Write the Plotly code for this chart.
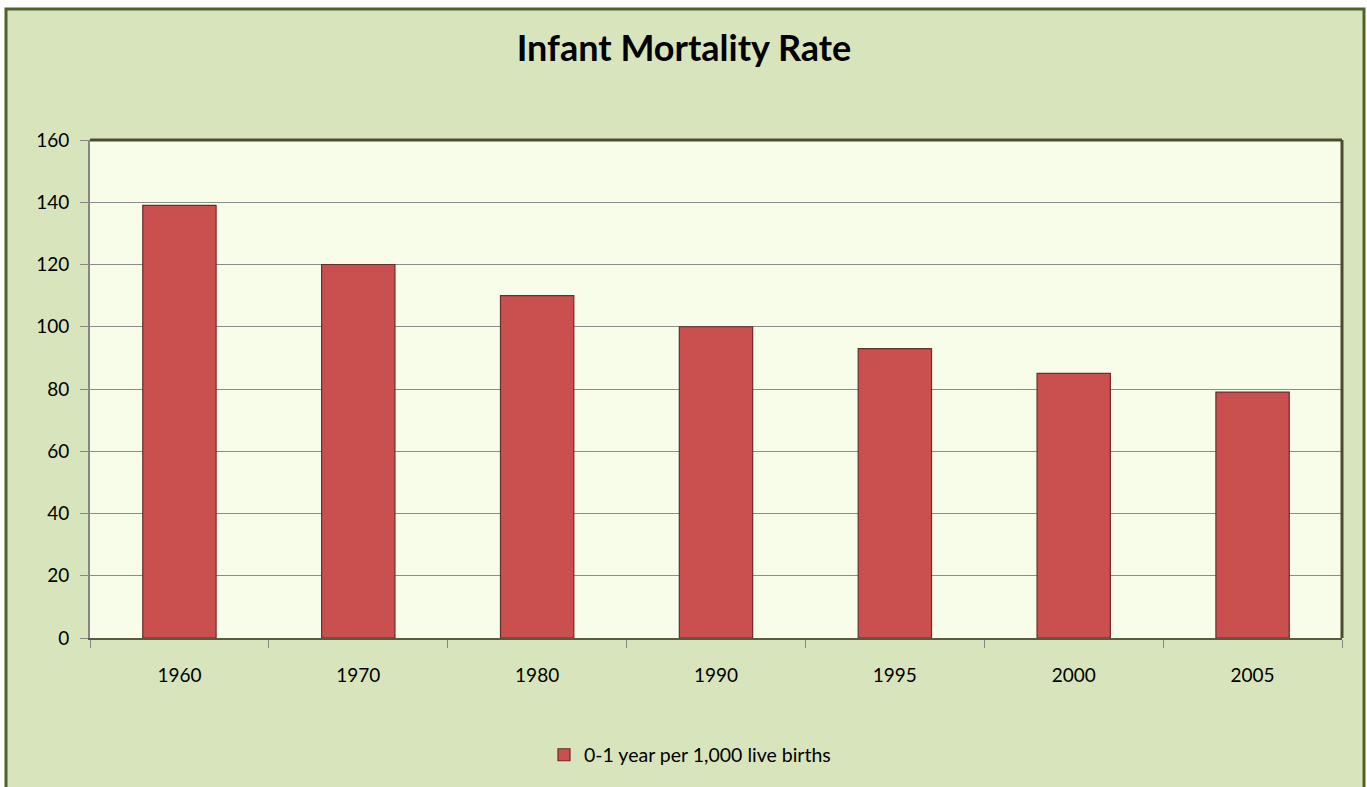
import plotly.graph_objects as go

years = ["1960", "1970", "1980", "1990", "1995", "2000", "2005"]
rates = [139, 120, 110, 100, 93, 85, 79]
series_name = "0-1 year per 1,000 live births"
title_text = "Infant Mortality Rate"
y_ticks = [0, 20, 40, 60, 80, 100, 120, 140, 160]

W, H = 1367, 787
L, R, T, B = 90, 1342, 140, 642
pw, ph = R - L, B - T

def px_x(x):
    return (x - L) / pw

def px_y(y):
    return (B - y) / ph

fig = go.Figure()
fig.add_trace(go.Bar(
    x=years, y=rates, name=series_name,
    marker=dict(color="#c9504e", line=dict(color="#6e2b29", width=1.2)),
    width=0.41, showlegend=True,
))

font_family = "Lato, 'Open Sans', sans-serif"

shapes = [
    dict(type="rect", xref="paper", yref="paper", layer="below",
         x0=px_x(6), x1=px_x(1364), y0=px_y(8), y1=px_y(800),
         fillcolor="#d8e4bc", line=dict(color="#4f6228", width=3)),
    dict(type="rect", xref="paper", yref="paper", layer="below",
         x0=0, x1=1, y0=0, y1=1, fillcolor="#f8fdea", line=dict(width=0)),
    dict(type="line", xref="paper", yref="paper", x0=0, x1=1, y0=1, y1=1,
         line=dict(color="#4d4b2e", width=3)),
    dict(type="line", xref="paper", yref="paper", x0=1, x1=1, y0=0, y1=1,
         line=dict(color="#4d4b2e", width=3)),
]

fig.update_layout(
    width=W, height=H,
    margin=dict(l=L, r=W - R, t=T, b=H - B, pad=0),
    paper_bgcolor="white",
    plot_bgcolor="rgba(0,0,0,0)",
    title=dict(text="<b>" + title_text + "</b>", xref="container", x=684 / W,
               xanchor="center", yref="container", y=1 - 48 / H, yanchor="middle",
               font=dict(family=font_family, size=36, color="black")),
    font=dict(family=font_family, size=19, color="black"),
    shapes=shapes,
    showlegend=True,
    legend=dict(orientation="h", x=px_x(690), xanchor="center", y=px_y(760), yanchor="middle",
                bgcolor="rgba(0,0,0,0)", font=dict(size=19.5),
                itemwidth=30),
    bargap=0.59,
)
fig.update_xaxes(
    type="category", tickson="boundaries", ticks="outside", ticklen=8,
    tickcolor="#868686", showline=True, linecolor="#5a5a40", linewidth=2,
    showgrid=False, tickfont=dict(size=19), ticklabelstandoff=19,
)
fig.update_yaxes(
    range=[0, 160], tickvals=y_ticks, ticks="outside", ticklen=8,
    tickcolor="#868686", showline=True, linecolor="#868686", linewidth=2,
    showgrid=True, gridcolor="#8c8c8c", gridwidth=1, tickfont=dict(size=19),
    zeroline=False, ticklabelstandoff=7,
)

fig.write_html("out.html", config={"displayModeBar": False},
               post_script="document.body.style.margin='0';")
